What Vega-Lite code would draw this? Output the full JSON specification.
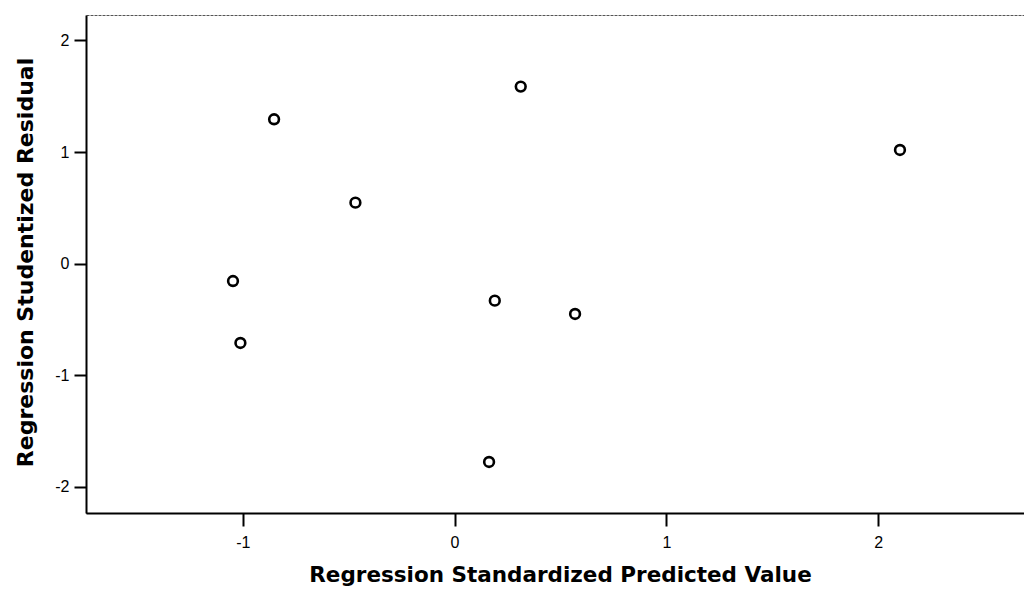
{
  "$schema": "https://vega.github.io/schema/vega-lite/v6.json",
  "width": 940,
  "height": 498,
  "autosize": {"type": "none"},
  "padding": {"left": 86, "top": 15, "right": 0, "bottom": 76},
  "background": "white",
  "config": {
    "view": {"stroke": "#555555", "strokeWidth": 1, "strokeDash": [3, 1]},
    "font": "Liberation Sans"
  },
  "data": {
    "values": [
      {"pred": -1.046, "resid": -0.155},
      {"pred": -1.011, "resid": -0.71},
      {"pred": -0.852, "resid": 1.294},
      {"pred": -0.468, "resid": 0.547},
      {"pred": 0.3125, "resid": 1.587},
      {"pred": 0.19, "resid": -0.331},
      {"pred": 0.569, "resid": -0.45},
      {"pred": 0.163, "resid": -1.776},
      {"pred": 2.103, "resid": 1.019}
    ]
  },
  "mark": {"type": "point", "filled": false, "color": "black", "size": 95, "strokeWidth": 2.6, "opacity": 1},
  "encoding": {
    "x": {
      "field": "pred",
      "type": "quantitative",
      "scale": {"domain": [-1.74, 2.698], "nice": false, "zero": false},
      "axis": {
        "title": "Regression Standardized Predicted Value",
        "values": [-1, 0, 1, 2],
        "labelExpr": "replace(datum.label, '−', '-')",
        "grid": false,
        "domainColor": "black",
        "domainWidth": 2,
        "tickColor": "black",
        "tickWidth": 2,
        "tickSize": 13,
        "labelFont": "Liberation Sans",
        "labelFontSize": 16,
        "labelColor": "black",
        "labelPadding": 8,
        "titleFont": "DejaVu Sans",
        "titleFontSize": 21.5,
        "titleFontWeight": "bold",
        "titleColor": "black",
        "titleX": 474,
        "titleY": 68,
        "titleBaseline": "alphabetic"
      }
    },
    "y": {
      "field": "resid",
      "type": "quantitative",
      "scale": {"domain": [-2.233, 2.228], "nice": false, "zero": false},
      "axis": {
        "title": "Regression Studentized Residual",
        "values": [-2, -1, 0, 1, 2],
        "labelExpr": "replace(datum.label, '−', '-')",
        "grid": false,
        "domainColor": "black",
        "domainWidth": 2,
        "tickColor": "black",
        "tickWidth": 2,
        "tickSize": 12,
        "labelFont": "Liberation Sans",
        "labelFontSize": 16,
        "labelColor": "black",
        "labelPadding": 5,
        "titleFont": "DejaVu Sans",
        "titleFontSize": 22,
        "titleFontWeight": "bold",
        "titleColor": "black",
        "titleX": -54,
        "titleY": 247,
        "titleBaseline": "alphabetic"
      }
    }
  }
}
